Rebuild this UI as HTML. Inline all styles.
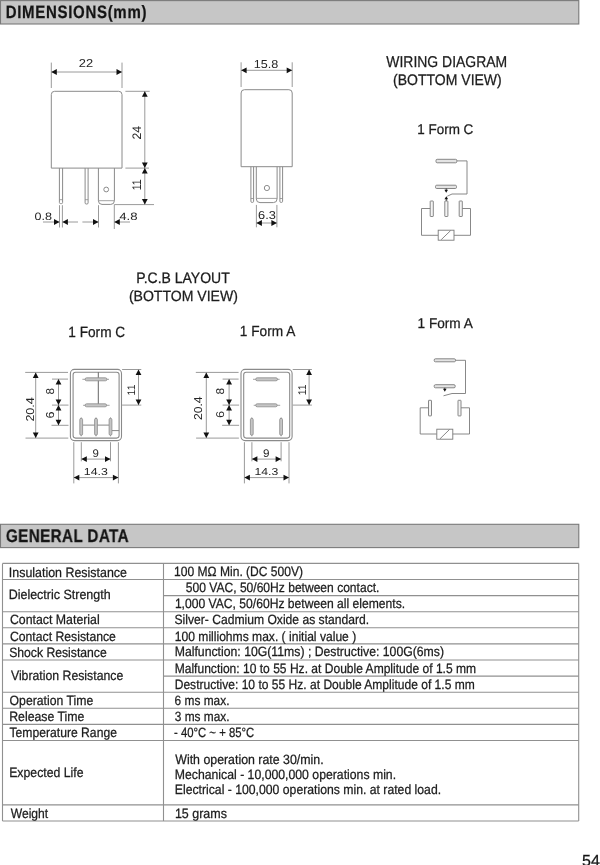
<!DOCTYPE html>
<html><head><meta charset="utf-8"><style>
html,body{margin:0;padding:0;background:#fff;}
body{width:600px;height:865px;overflow:hidden;position:relative;}
svg{position:absolute;left:0;top:0;display:block;}
text{stroke:#1c1c1c;stroke-width:0.26px;}
text.d{stroke-width:0;fill:#262626;}
svg{will-change:transform;text-rendering:geometricPrecision;font-family:"Liberation Sans",sans-serif;}
</style></head><body>
<svg width="600" height="865" viewBox="0 0 600 865" xml:space="preserve">
<rect x="0.5" y="0.6" width="578.3" height="23.4" fill="#c6c6c6" stroke="#7a7a7a" stroke-width="1.1"/>
<text transform="scale(0.84,1)" x="6.77" y="18.1" font-size="17.89" font-weight="bold" letter-spacing="0.82" fill="#141414">DIMENSIONS(mm)</text>
<rect x="0.5" y="524.3" width="578.3" height="23.3" fill="#c6c6c6" stroke="#7a7a7a" stroke-width="1.1"/>
<text transform="scale(0.84,1)" x="7.01" y="542.3" font-size="18.18" font-weight="bold" letter-spacing="0.44" fill="#141414">GENERAL DATA</text>
<path d="M51.3,168.1 V94.6 Q51.3,91.3 54.6,91.3 H118.7 Q122,91.3 122,94.6 V168.1 Z" stroke="#8a8a8a" stroke-width="1" fill="none"/>
<line x1="51.3" y1="62.6" x2="51.3" y2="88" stroke="#9a9a9a" stroke-width="1"/>
<line x1="122" y1="62.6" x2="122" y2="88" stroke="#9a9a9a" stroke-width="1"/>
<line x1="51.3" y1="72" x2="122" y2="72" stroke="#9a9a9a" stroke-width="1"/>
<polygon points="51.3,72 56.8,69.1 56.8,74.9" fill="#111"/>
<polygon points="122,72 116.5,69.1 116.5,74.9" fill="#111"/>
<text x="78.76" y="67.4" font-size="11.47" class="d" textLength="14.32" lengthAdjust="spacingAndGlyphs" fill="#1c1c1c">22</text>
<line x1="125.4" y1="91.3" x2="149.7" y2="91.3" stroke="#9a9a9a" stroke-width="1"/>
<line x1="125.4" y1="168.1" x2="149" y2="168.1" stroke="#9a9a9a" stroke-width="1"/>
<line x1="114.3" y1="204.6" x2="154" y2="204.6" stroke="#9a9a9a" stroke-width="1"/>
<line x1="144.8" y1="91.3" x2="144.8" y2="204.6" stroke="#9a9a9a" stroke-width="1"/>
<polygon points="144.8,91.3 141.9,96.8 147.7,96.8" fill="#111"/>
<polygon points="144.8,168.1 141.9,162.6 147.7,162.6" fill="#111"/>
<polygon points="144.8,168.1 141.9,173.6 147.7,173.6" fill="#111"/>
<polygon points="144.8,204.6 141.9,199.1 147.7,199.1" fill="#111"/>
<text class="d" transform="translate(141,138.8) rotate(-90)" x="-0.61" y="0" font-size="12.33" textLength="13.57" lengthAdjust="spacingAndGlyphs" fill="#1c1c1c">24</text>
<text class="d" transform="translate(141,189.5) rotate(-90)" x="-0.8" y="0" font-size="12.51" textLength="11.01" lengthAdjust="spacingAndGlyphs" fill="#1c1c1c">11</text>
<path d="M59.4,168.1 V202.5 Q59.4,203.6 60.5,203.6 H61.5 Q62.6,203.6 62.6,202.5 V168.1" stroke="#8a8a8a" stroke-width="1" fill="none"/>
<line x1="59.4" y1="199.7" x2="62.6" y2="199.7" stroke="#8a8a8a" stroke-width="0.8"/>
<path d="M85.1,168.1 V202.9 Q85.1,204 86.2,204 H87 Q88.1,204 88.1,202.9 V168.1" stroke="#8a8a8a" stroke-width="1" fill="none"/>
<line x1="85.1" y1="199.7" x2="88.1" y2="199.7" stroke="#8a8a8a" stroke-width="0.8"/>
<path d="M98.4,168.1 V200.6 Q98.4,204.4 102,204.4 H110.8 Q114.4,204.4 114.4,200.6 V168.1" stroke="#8a8a8a" stroke-width="1" fill="none"/>
<line x1="98.4" y1="200.7" x2="114.4" y2="200.7" stroke="#8a8a8a" stroke-width="0.8"/>
<circle cx="106.2" cy="189.5" r="2.4" fill="none" stroke="#8a8a8a" stroke-width="1"/>
<line x1="59.5" y1="205.2" x2="59.5" y2="227.5" stroke="#9a9a9a" stroke-width="1"/>
<line x1="62.4" y1="205.2" x2="62.4" y2="227.5" stroke="#9a9a9a" stroke-width="1"/>
<line x1="98.5" y1="205.2" x2="98.5" y2="227.5" stroke="#9a9a9a" stroke-width="1"/>
<line x1="114.3" y1="204.6" x2="114.3" y2="229" stroke="#9a9a9a" stroke-width="1"/>
<line x1="43" y1="222" x2="59.5" y2="222" stroke="#9a9a9a" stroke-width="1"/>
<polygon points="59.5,222 54,219.1 54,224.9" fill="#111"/>
<line x1="62.4" y1="222" x2="78" y2="222" stroke="#9a9a9a" stroke-width="1"/>
<polygon points="62.4,222 67.9,219.1 67.9,224.9" fill="#111"/>
<line x1="82.4" y1="222" x2="98.5" y2="222" stroke="#9a9a9a" stroke-width="1"/>
<polygon points="98.5,222 93,219.1 93,224.9" fill="#111"/>
<line x1="114.3" y1="222" x2="130" y2="222" stroke="#9a9a9a" stroke-width="1"/>
<polygon points="114.3,222 119.8,219.1 119.8,224.9" fill="#111"/>
<text x="34.5" y="220" font-size="10.61" class="d" textLength="17.44" lengthAdjust="spacingAndGlyphs" fill="#1c1c1c">0.8</text>
<text x="119.3" y="220" font-size="10.61" class="d" textLength="18.26" lengthAdjust="spacingAndGlyphs" fill="#1c1c1c">4.8</text>
<path d="M241.1,166.7 V93 Q241.1,89.7 244.4,89.7 H288.9 Q292.2,89.7 292.2,93 V166.7 Z" stroke="#8a8a8a" stroke-width="1" fill="none"/>
<line x1="241.1" y1="62.3" x2="241.1" y2="87" stroke="#9a9a9a" stroke-width="1"/>
<line x1="292.2" y1="62.3" x2="292.2" y2="87" stroke="#9a9a9a" stroke-width="1"/>
<line x1="241.1" y1="70.3" x2="292.2" y2="70.3" stroke="#9a9a9a" stroke-width="1"/>
<polygon points="241.1,70.3 246.6,67.4 246.6,73.2" fill="#111"/>
<polygon points="292.2,70.3 286.7,67.4 286.7,73.2" fill="#111"/>
<text x="253.76" y="67.7" font-size="11.47" class="d" textLength="24.5" lengthAdjust="spacingAndGlyphs" fill="#1c1c1c">15.8</text>
<path d="M250.9,166.7 V201.3 Q250.9,202.4 252,202.4 H252.5 Q253.6,202.4 253.6,201.3 V166.7" stroke="#8a8a8a" stroke-width="1" fill="none"/>
<line x1="250.9" y1="198.5" x2="253.6" y2="198.5" stroke="#8a8a8a" stroke-width="0.8"/>
<path d="M279.9,166.7 V201.3 Q279.9,202.4 281,202.4 H281.5 Q282.6,202.4 282.6,201.3 V166.7" stroke="#8a8a8a" stroke-width="1" fill="none"/>
<line x1="279.9" y1="198.5" x2="282.6" y2="198.5" stroke="#8a8a8a" stroke-width="0.8"/>
<path d="M256.3,166.7 V198.8 Q256.3,202.6 260,202.6 H273.4 Q277.1,202.6 277.1,198.8 V166.7" stroke="#8a8a8a" stroke-width="1" fill="none"/>
<line x1="256.3" y1="198.4" x2="277.1" y2="198.4" stroke="#8a8a8a" stroke-width="0.8"/>
<circle cx="266.9" cy="188" r="2.6" fill="none" stroke="#8a8a8a" stroke-width="1"/>
<line x1="256.4" y1="204.9" x2="256.4" y2="227.3" stroke="#9a9a9a" stroke-width="1"/>
<line x1="276.9" y1="204.9" x2="276.9" y2="227.3" stroke="#9a9a9a" stroke-width="1"/>
<line x1="256.4" y1="223" x2="276.9" y2="223" stroke="#9a9a9a" stroke-width="1"/>
<polygon points="256.4,223 261.9,220.1 261.9,225.9" fill="#111"/>
<polygon points="276.9,223 271.4,220.1 271.4,225.9" fill="#111"/>
<text x="258.06" y="219.3" font-size="11.47" class="d" textLength="17.79" lengthAdjust="spacingAndGlyphs" fill="#1c1c1c">6.3</text>
<text x="386.33" y="67.3" font-size="15.63" textLength="120.84" lengthAdjust="spacingAndGlyphs" fill="#1c1c1c">WIRING DIAGRAM</text>
<text x="393.12" y="85" font-size="15.27" textLength="108.64" lengthAdjust="spacingAndGlyphs" fill="#1c1c1c">(BOTTOM VIEW)</text>
<text x="417.29" y="133.8" font-size="14.05" textLength="56.01" lengthAdjust="spacingAndGlyphs" fill="#1c1c1c">1 Form C</text>
<text x="417.58" y="327.7" font-size="14.11" textLength="55.25" lengthAdjust="spacingAndGlyphs" fill="#1c1c1c">1 Form A</text>
<text x="136.15" y="283" font-size="15.13" textLength="93.57" lengthAdjust="spacingAndGlyphs" fill="#1c1c1c">P.C.B LAYOUT</text>
<text x="128.92" y="300.8" font-size="14.84" textLength="108.94" lengthAdjust="spacingAndGlyphs" fill="#1c1c1c">(BOTTOM VIEW)</text>
<text x="68.28" y="337" font-size="14.77" textLength="56.93" lengthAdjust="spacingAndGlyphs" fill="#1c1c1c">1 Form C</text>
<text x="239.87" y="336.3" font-size="14.55" textLength="55.45" lengthAdjust="spacingAndGlyphs" fill="#1c1c1c">1 Form A</text>
<rect x="436" y="159.3" width="20.8" height="3.5" rx="1.2" fill="#e4e4e4" stroke="#7a7a7a" stroke-width="0.9"/>
<path d="M456.8,160.9 H467 V194 H452 L447.3,196.2" stroke="#7a7a7a" stroke-width="0.9" fill="none"/>
<rect x="435.5" y="185.2" width="21" height="3.3" rx="1.2" fill="#e4e4e4" stroke="#7a7a7a" stroke-width="0.9"/>
<line x1="446.2" y1="188.5" x2="446.2" y2="190.5" stroke="#111" stroke-width="0.8"/>
<polygon points="446.2,192.8 444.4,189.8 448,189.8" fill="#111"/>
<polygon points="446.3,196.2 444.5,199.2 448.1,199.2" fill="#111"/>
<line x1="446.3" y1="198.5" x2="446.3" y2="201" stroke="#111" stroke-width="0.8"/>
<rect x="430.2" y="201" width="3.1" height="15.5" rx="0.4" fill="#f4f4f4" stroke="#7a7a7a" stroke-width="0.9"/>
<rect x="444.8" y="201" width="3.1" height="15.5" rx="0.4" fill="#f4f4f4" stroke="#7a7a7a" stroke-width="0.9"/>
<rect x="459.2" y="201" width="3.1" height="15.5" rx="0.4" fill="#f4f4f4" stroke="#7a7a7a" stroke-width="0.9"/>
<path d="M430.2,208.5 H421.5 V235.3 H438.2" stroke="#7a7a7a" stroke-width="0.9" fill="none"/>
<rect x="438.2" y="230.2" width="15.8" height="10" fill="#fff" stroke="#7a7a7a" stroke-width="0.9"/>
<line x1="441.2" y1="239.7" x2="450.6" y2="230.6" stroke="#7a7a7a" stroke-width="0.9"/>
<path d="M454,235.3 H470.5 V208.5 H462.3" stroke="#7a7a7a" stroke-width="0.9" fill="none"/>
<rect x="434.2" y="358.8" width="21.3" height="3" rx="1.2" fill="#e4e4e4" stroke="#7a7a7a" stroke-width="0.9"/>
<path d="M455.5,360.3 H465.5 V393.5 H452 L443.5,395.8" stroke="#7a7a7a" stroke-width="0.9" fill="none"/>
<rect x="434.2" y="384.7" width="21" height="3.1" rx="1.2" fill="#e4e4e4" stroke="#7a7a7a" stroke-width="0.9"/>
<line x1="444.8" y1="387.8" x2="444.8" y2="389.5" stroke="#111" stroke-width="0.8"/>
<polygon points="444.8,391.8 443,388.8 446.6,388.8" fill="#111"/>
<rect x="428.5" y="400.3" width="3" height="15.6" rx="0.4" fill="#f4f4f4" stroke="#7a7a7a" stroke-width="0.9"/>
<rect x="458" y="400.3" width="3" height="15.6" rx="0.4" fill="#f4f4f4" stroke="#7a7a7a" stroke-width="0.9"/>
<path d="M428.5,407.8 H420.2 V434 H436.8" stroke="#7a7a7a" stroke-width="0.9" fill="none"/>
<rect x="436.8" y="429.2" width="16" height="10" fill="#fff" stroke="#7a7a7a" stroke-width="0.9"/>
<line x1="440" y1="438.8" x2="449.5" y2="429.5" stroke="#7a7a7a" stroke-width="0.9"/>
<path d="M452.8,434 H469.5 V407.8 H461" stroke="#7a7a7a" stroke-width="0.9" fill="none"/>
<rect x="70.4" y="369.4" width="51.1" height="71.2" rx="4" fill="none" stroke="#8a8a8a" stroke-width="1.1"/>
<rect x="73.1" y="372.2" width="46" height="65.9" rx="2.5" fill="none" stroke="#8a8a8a" stroke-width="1.1"/>
<line x1="98.3" y1="372.2" x2="98.3" y2="405.3" stroke="#666" stroke-width="1"/>
<line x1="82.4" y1="379.3" x2="109" y2="379.3" stroke="#8a8a8a" stroke-width="0.8"/>
<rect x="85.1" y="377.8" width="21.8" height="3" rx="1.5" fill="#c6c6c6" stroke="#8a8a8a" stroke-width="0.8"/>
<line x1="83.1" y1="405.3" x2="109.6" y2="405.3" stroke="#8a8a8a" stroke-width="0.8"/>
<rect x="85.1" y="403.8" width="21.5" height="3" rx="1.5" fill="#c6c6c6" stroke="#8a8a8a" stroke-width="0.8"/>
<line x1="82.8" y1="425.1" x2="109" y2="425.1" stroke="#888" stroke-width="1"/>
<line x1="111.9" y1="430.6" x2="119.1" y2="430.6" stroke="#888" stroke-width="1"/>
<line x1="81.2" y1="417.4" x2="81.2" y2="436.3" stroke="#8a8a8a" stroke-width="0.8"/>
<rect x="79.8" y="418.3" width="2.8" height="17" rx="1.4" fill="#c6c6c6" stroke="#8a8a8a" stroke-width="0.8"/>
<line x1="96" y1="417.4" x2="96" y2="436.3" stroke="#8a8a8a" stroke-width="0.8"/>
<rect x="94.6" y="418.3" width="2.8" height="17" rx="1.4" fill="#c6c6c6" stroke="#8a8a8a" stroke-width="0.8"/>
<line x1="110.5" y1="417.4" x2="110.5" y2="436.3" stroke="#8a8a8a" stroke-width="0.8"/>
<rect x="109.1" y="418.3" width="2.8" height="17" rx="1.4" fill="#c6c6c6" stroke="#8a8a8a" stroke-width="0.8"/>
<line x1="25.2" y1="372.4" x2="68" y2="372.4" stroke="#9a9a9a" stroke-width="1"/>
<line x1="25.5" y1="438.1" x2="68.3" y2="438.1" stroke="#9a9a9a" stroke-width="1"/>
<line x1="52" y1="379.1" x2="68" y2="379.1" stroke="#9a9a9a" stroke-width="1"/>
<line x1="52" y1="405.1" x2="68.5" y2="405.1" stroke="#9a9a9a" stroke-width="1"/>
<line x1="51.5" y1="425.3" x2="68.5" y2="425.3" stroke="#9a9a9a" stroke-width="1"/>
<line x1="35.7" y1="372.4" x2="35.7" y2="438.1" stroke="#9a9a9a" stroke-width="1"/>
<polygon points="35.7,372.4 32.8,377.9 38.6,377.9" fill="#111"/>
<polygon points="35.7,438.1 32.8,432.6 38.6,432.6" fill="#111"/>
<line x1="58.5" y1="379.1" x2="58.5" y2="425.3" stroke="#9a9a9a" stroke-width="1"/>
<polygon points="58.5,379.1 55.6,384.6 61.4,384.6" fill="#111"/>
<polygon points="58.5,405.1 55.6,399.6 61.4,399.6" fill="#111"/>
<polygon points="58.5,405.1 55.6,410.6 61.4,410.6" fill="#111"/>
<polygon points="58.5,425.3 55.6,419.8 61.4,419.8" fill="#111"/>
<line x1="122.1" y1="369.5" x2="141.3" y2="369.5" stroke="#9a9a9a" stroke-width="1"/>
<line x1="122.1" y1="405.1" x2="141.3" y2="405.1" stroke="#9a9a9a" stroke-width="1"/>
<line x1="138.5" y1="369.5" x2="138.5" y2="405.1" stroke="#9a9a9a" stroke-width="1"/>
<polygon points="138.5,369.5 135.6,375 141.4,375" fill="#111"/>
<polygon points="138.5,405.1 135.6,399.6 141.4,399.6" fill="#111"/>
<line x1="73.8" y1="442.2" x2="73.8" y2="483.4" stroke="#9a9a9a" stroke-width="1"/>
<line x1="118.4" y1="442.2" x2="118.4" y2="483.4" stroke="#9a9a9a" stroke-width="1"/>
<line x1="81.3" y1="442.2" x2="81.3" y2="461.3" stroke="#9a9a9a" stroke-width="1"/>
<line x1="110.5" y1="442.2" x2="110.5" y2="461.3" stroke="#9a9a9a" stroke-width="1"/>
<line x1="81.3" y1="459.1" x2="110.5" y2="459.1" stroke="#9a9a9a" stroke-width="1"/>
<polygon points="81.3,459.1 86.8,456.2 86.8,462" fill="#111"/>
<polygon points="110.5,459.1 105,456.2 105,462" fill="#111"/>
<line x1="73.8" y1="477.6" x2="118.4" y2="477.6" stroke="#9a9a9a" stroke-width="1"/>
<polygon points="73.8,477.6 79.3,474.7 79.3,480.5" fill="#111"/>
<polygon points="118.4,477.6 112.9,474.7 112.9,480.5" fill="#111"/>
<rect x="241" y="369.4" width="51.1" height="71.2" rx="4" fill="none" stroke="#8a8a8a" stroke-width="1.1"/>
<rect x="243.7" y="372.2" width="46" height="65.9" rx="2.5" fill="none" stroke="#8a8a8a" stroke-width="1.1"/>
<line x1="253" y1="379.3" x2="279.6" y2="379.3" stroke="#8a8a8a" stroke-width="0.8"/>
<rect x="255.7" y="377.8" width="21.8" height="3" rx="1.5" fill="#c6c6c6" stroke="#8a8a8a" stroke-width="0.8"/>
<line x1="253.7" y1="405.3" x2="280.2" y2="405.3" stroke="#8a8a8a" stroke-width="0.8"/>
<rect x="255.7" y="403.8" width="21.5" height="3" rx="1.5" fill="#c6c6c6" stroke="#8a8a8a" stroke-width="0.8"/>
<line x1="251.8" y1="417.4" x2="251.8" y2="436.3" stroke="#8a8a8a" stroke-width="0.8"/>
<rect x="250.4" y="418.3" width="2.8" height="17" rx="1.4" fill="#c6c6c6" stroke="#8a8a8a" stroke-width="0.8"/>
<line x1="281.1" y1="417.4" x2="281.1" y2="436.3" stroke="#8a8a8a" stroke-width="0.8"/>
<rect x="279.7" y="418.3" width="2.8" height="17" rx="1.4" fill="#c6c6c6" stroke="#8a8a8a" stroke-width="0.8"/>
<line x1="195.8" y1="372.4" x2="238.6" y2="372.4" stroke="#9a9a9a" stroke-width="1"/>
<line x1="196.1" y1="438.1" x2="238.9" y2="438.1" stroke="#9a9a9a" stroke-width="1"/>
<line x1="222.6" y1="379.1" x2="238.6" y2="379.1" stroke="#9a9a9a" stroke-width="1"/>
<line x1="222.6" y1="405.1" x2="239.1" y2="405.1" stroke="#9a9a9a" stroke-width="1"/>
<line x1="222.1" y1="425.3" x2="239.1" y2="425.3" stroke="#9a9a9a" stroke-width="1"/>
<line x1="206.3" y1="372.4" x2="206.3" y2="438.1" stroke="#9a9a9a" stroke-width="1"/>
<polygon points="206.3,372.4 203.4,377.9 209.2,377.9" fill="#111"/>
<polygon points="206.3,438.1 203.4,432.6 209.2,432.6" fill="#111"/>
<line x1="229.1" y1="379.1" x2="229.1" y2="425.3" stroke="#9a9a9a" stroke-width="1"/>
<polygon points="229.1,379.1 226.2,384.6 232,384.6" fill="#111"/>
<polygon points="229.1,405.1 226.2,399.6 232,399.6" fill="#111"/>
<polygon points="229.1,405.1 226.2,410.6 232,410.6" fill="#111"/>
<polygon points="229.1,425.3 226.2,419.8 232,419.8" fill="#111"/>
<line x1="292.7" y1="369.5" x2="311.9" y2="369.5" stroke="#9a9a9a" stroke-width="1"/>
<line x1="292.7" y1="405.1" x2="311.9" y2="405.1" stroke="#9a9a9a" stroke-width="1"/>
<line x1="309.1" y1="369.5" x2="309.1" y2="405.1" stroke="#9a9a9a" stroke-width="1"/>
<polygon points="309.1,369.5 306.2,375 312,375" fill="#111"/>
<polygon points="309.1,405.1 306.2,399.6 312,399.6" fill="#111"/>
<line x1="244.4" y1="442.2" x2="244.4" y2="483.4" stroke="#9a9a9a" stroke-width="1"/>
<line x1="289" y1="442.2" x2="289" y2="483.4" stroke="#9a9a9a" stroke-width="1"/>
<line x1="251.9" y1="442.2" x2="251.9" y2="461.3" stroke="#9a9a9a" stroke-width="1"/>
<line x1="281.1" y1="442.2" x2="281.1" y2="461.3" stroke="#9a9a9a" stroke-width="1"/>
<line x1="251.9" y1="459.1" x2="281.1" y2="459.1" stroke="#9a9a9a" stroke-width="1"/>
<polygon points="251.9,459.1 257.4,456.2 257.4,462" fill="#111"/>
<polygon points="281.1,459.1 275.6,456.2 275.6,462" fill="#111"/>
<line x1="244.4" y1="477.6" x2="289" y2="477.6" stroke="#9a9a9a" stroke-width="1"/>
<polygon points="244.4,477.6 249.9,474.7 249.9,480.5" fill="#111"/>
<polygon points="289,477.6 283.5,474.7 283.5,480.5" fill="#111"/>
<text class="d" transform="translate(33.5,421) rotate(-90)" x="-0.63" y="0" font-size="11.47" textLength="24.49" lengthAdjust="spacingAndGlyphs" fill="#1c1c1c">20.4</text>
<text class="d" transform="translate(53.5,394) rotate(-90)" x="-0.5" y="0" font-size="11.47" textLength="6.51" lengthAdjust="spacingAndGlyphs" fill="#1c1c1c">8</text>
<text class="d" transform="translate(53.5,417.8) rotate(-90)" x="-0.63" y="0" font-size="11.47" textLength="6.97" lengthAdjust="spacingAndGlyphs" fill="#1c1c1c">6</text>
<text class="d" transform="translate(135.4,394.6) rotate(-90)" x="-0.79" y="0" font-size="10.91" textLength="10.89" lengthAdjust="spacingAndGlyphs" fill="#1c1c1c">11</text>
<text x="92.46" y="456.9" font-size="11.04" class="d" textLength="6.37" lengthAdjust="spacingAndGlyphs" fill="#1c1c1c">9</text>
<text x="83.77" y="475.3" font-size="10.04" class="d" textLength="24.07" lengthAdjust="spacingAndGlyphs" fill="#1c1c1c">14.3</text>
<text class="d" transform="translate(201.8,419.5) rotate(-90)" x="-0.61" y="0" font-size="11.47" textLength="23.66" lengthAdjust="spacingAndGlyphs" fill="#1c1c1c">20.4</text>
<text class="d" transform="translate(224.2,393.9) rotate(-90)" x="-0.51" y="0" font-size="11.33" textLength="6.63" lengthAdjust="spacingAndGlyphs" fill="#1c1c1c">8</text>
<text class="d" transform="translate(224.4,417.5) rotate(-90)" x="-0.64" y="0" font-size="11.33" textLength="7.09" lengthAdjust="spacingAndGlyphs" fill="#1c1c1c">6</text>
<text class="d" transform="translate(306.2,394.4) rotate(-90)" x="-0.79" y="0" font-size="11.2" textLength="10.89" lengthAdjust="spacingAndGlyphs" fill="#1c1c1c">11</text>
<text x="263.05" y="456.7" font-size="11.18" class="d" textLength="6.49" lengthAdjust="spacingAndGlyphs" fill="#1c1c1c">9</text>
<text x="254.48" y="474.9" font-size="10.04" class="d" textLength="23.86" lengthAdjust="spacingAndGlyphs" fill="#1c1c1c">14.3</text>
<line x1="2.5" y1="563.4" x2="578.7" y2="563.4" stroke="#909090" stroke-width="1.1"/>
<line x1="2.5" y1="579.5" x2="578.7" y2="579.5" stroke="#909090" stroke-width="1.1"/>
<line x1="2.5" y1="611.7" x2="578.7" y2="611.7" stroke="#909090" stroke-width="1.1"/>
<line x1="2.5" y1="627.8" x2="578.7" y2="627.8" stroke="#909090" stroke-width="1.1"/>
<line x1="2.5" y1="643.9" x2="578.7" y2="643.9" stroke="#909090" stroke-width="1.1"/>
<line x1="2.5" y1="660" x2="578.7" y2="660" stroke="#909090" stroke-width="1.1"/>
<line x1="2.5" y1="692.2" x2="578.7" y2="692.2" stroke="#909090" stroke-width="1.1"/>
<line x1="2.5" y1="708.3" x2="578.7" y2="708.3" stroke="#909090" stroke-width="1.1"/>
<line x1="2.5" y1="724.4" x2="578.7" y2="724.4" stroke="#909090" stroke-width="1.1"/>
<line x1="2.5" y1="740.5" x2="578.7" y2="740.5" stroke="#909090" stroke-width="1.1"/>
<line x1="2.5" y1="804.9" x2="578.7" y2="804.9" stroke="#909090" stroke-width="1.1"/>
<line x1="2.5" y1="821" x2="578.7" y2="821" stroke="#909090" stroke-width="1.1"/>
<line x1="163.5" y1="595.6" x2="578.7" y2="595.6" stroke="#909090" stroke-width="1.1"/>
<line x1="163.5" y1="676.1" x2="578.7" y2="676.1" stroke="#909090" stroke-width="1.1"/>
<line x1="2.5" y1="563.4" x2="2.5" y2="821" stroke="#909090" stroke-width="1.1"/>
<line x1="163.5" y1="563.4" x2="163.5" y2="821" stroke="#909090" stroke-width="1.1"/>
<line x1="578.7" y1="563.4" x2="578.7" y2="821" stroke="#909090" stroke-width="1.1"/>
<text x="8.85" y="576.8" font-size="13.45" textLength="118.09" lengthAdjust="spacingAndGlyphs" fill="#1c1c1c">Insulation Resistance</text>
<text x="8.67" y="599" font-size="13.45" textLength="102.01" lengthAdjust="spacingAndGlyphs" fill="#1c1c1c">Dielectric Strength</text>
<text x="9.88" y="624.2" font-size="13.45" textLength="89.83" lengthAdjust="spacingAndGlyphs" fill="#1c1c1c">Contact Material</text>
<text x="9.89" y="640.5" font-size="13.45" textLength="106.05" lengthAdjust="spacingAndGlyphs" fill="#1c1c1c">Contact Resistance</text>
<text x="9.15" y="656.8" font-size="13.45" textLength="97.59" lengthAdjust="spacingAndGlyphs" fill="#1c1c1c">Shock Resistance</text>
<text x="10.94" y="679.5" font-size="13.45" textLength="112.3" lengthAdjust="spacingAndGlyphs" fill="#1c1c1c">Vibration Resistance</text>
<text x="9.62" y="704.8" font-size="13.45" textLength="83.62" lengthAdjust="spacingAndGlyphs" fill="#1c1c1c">Operation Time</text>
<text x="9.18" y="721" font-size="13.45" textLength="75.26" lengthAdjust="spacingAndGlyphs" fill="#1c1c1c">Release Time</text>
<text x="9.48" y="737" font-size="13.45" textLength="107.45" lengthAdjust="spacingAndGlyphs" fill="#1c1c1c">Temperature Range</text>
<text x="9.19" y="777.2" font-size="13.45" textLength="74.36" lengthAdjust="spacingAndGlyphs" fill="#1c1c1c">Expected Life</text>
<text x="10.74" y="817.5" font-size="13.45" textLength="37.44" lengthAdjust="spacingAndGlyphs" fill="#1c1c1c">Weight</text>
<text x="174.1" y="575.6" font-size="13.45" textLength="128.93" lengthAdjust="spacingAndGlyphs" fill="#1c1c1c">100 MΩ Min. (DC 500V)</text>
<text x="185.82" y="591.5" font-size="13.45" textLength="193.57" lengthAdjust="spacingAndGlyphs" fill="#1c1c1c">500 VAC, 50/60Hz between contact.</text>
<text x="174.89" y="607.7" font-size="13.45" textLength="230.21" lengthAdjust="spacingAndGlyphs" fill="#1c1c1c">1,000 VAC, 50/60Hz between all elements.</text>
<text x="174.45" y="623.8" font-size="13.45" textLength="194.73" lengthAdjust="spacingAndGlyphs" fill="#1c1c1c">Silver- Cadmium Oxide as standard.</text>
<text x="174.79" y="640.5" font-size="13.45" textLength="181.44" lengthAdjust="spacingAndGlyphs" fill="#1c1c1c">100 milliohms max. ( initial value )</text>
<text x="174.69" y="655.9" font-size="13.45" textLength="269.34" lengthAdjust="spacingAndGlyphs" fill="#1c1c1c">Malfunction: 10G(11ms) ; Destructive: 100G(6ms)</text>
<text x="174.71" y="673.3" font-size="13.45" textLength="301.4" lengthAdjust="spacingAndGlyphs" fill="#1c1c1c">Malfunction: 10 to 55 Hz. at Double Amplitude of 1.5 mm</text>
<text x="174.71" y="688.8" font-size="13.45" textLength="300.07" lengthAdjust="spacingAndGlyphs" fill="#1c1c1c">Destructive: 10 to 55 Hz. at Double Amplitude of 1.5 mm</text>
<text x="174.61" y="705.2" font-size="13.45" textLength="54.86" lengthAdjust="spacingAndGlyphs" fill="#1c1c1c">6 ms max.</text>
<text x="174.76" y="721" font-size="13.45" textLength="54.71" lengthAdjust="spacingAndGlyphs" fill="#1c1c1c">3 ms max.</text>
<text x="173.99" y="736.8" font-size="13.45" textLength="80.22" lengthAdjust="spacingAndGlyphs" fill="#1c1c1c">- 40°C ~ + 85°C</text>
<text x="175.24" y="763.7" font-size="13.45" textLength="148.39" lengthAdjust="spacingAndGlyphs" fill="#1c1c1c">With operation rate 30/min.</text>
<text x="174.79" y="778.8" font-size="13.45" textLength="221.31" lengthAdjust="spacingAndGlyphs" fill="#1c1c1c">Mechanical - 10,000,000 operations min.</text>
<text x="174.79" y="794.2" font-size="13.45" textLength="266.32" lengthAdjust="spacingAndGlyphs" fill="#1c1c1c">Electrical - 100,000 operations min. at rated load.</text>
<text x="174.92" y="817.5" font-size="13.45" textLength="51.97" lengthAdjust="spacingAndGlyphs" fill="#1c1c1c">15  grams</text>
<text x="582" y="865.5" font-size="16" fill="#111">54</text>
</svg>
</body></html>
